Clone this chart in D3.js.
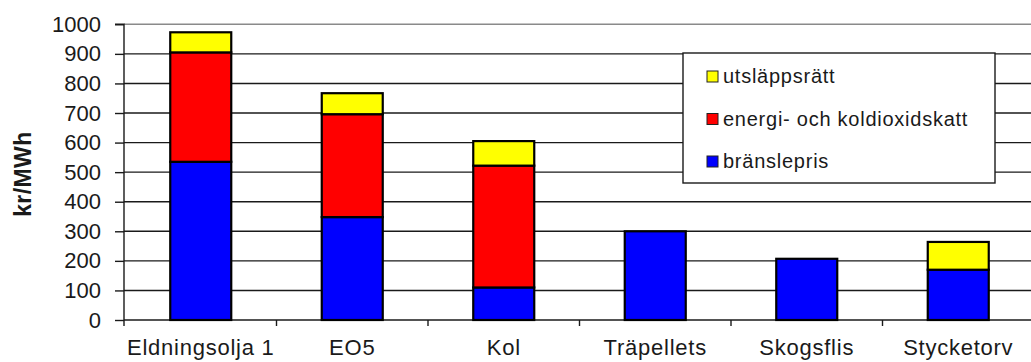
<!DOCTYPE html>
<html>
<head>
<meta charset="utf-8">
<script src="https://cdn.jsdelivr.net/npm/d3@7"></script>
<style>
  html, body { margin: 0; padding: 0; background: #fff; }
  svg { display: block; font-family: Arial, "Liberation Sans", sans-serif; }
</style>
</head>
<body>
<svg id="chart" width="1031" height="362"></svg>
<script>
// Fuel cost per MWh, split into fuel price, energy/CO2 tax and emission allowance
const categories = ["Eldningsolja 1", "EO5", "Kol", "Träpellets", "Skogsflis", "Stycketorv"];
const branslepris = [535, 348, 110, 300, 207, 170];
const skatt       = [370, 348, 412, 0, 0, 0];
const utslapp     = [68, 71, 83, 0, 0, 94];
const seriesNames = ["bränslepris", "energi- och koldioxidskatt", "utsläppsrätt"];
const seriesColors = ["#0000ff", "#ff0000", "#ffff00"];
const yTicks = [0, 100, 200, 300, 400, 500, 600, 700, 800, 900, 1000];
const yLabel = "kr/MWh";

const svg = d3.select("#chart");

const plot = { left: 124, right: 1034, top: 24.3, bottom: 320 };

const x = d3.scaleBand().domain(categories).range([plot.left + 1, plot.right]).paddingInner(0).paddingOuter(0);
const y = d3.scaleLinear().domain([0, 1000]).range([plot.bottom, plot.top]);
const barW = 61;

// Horizontal gridlines
svg.append("g")
  .selectAll("line")
  .data(yTicks.filter(t => t > 0))
  .join("line")
  .attr("x1", plot.left)
  .attr("x2", 1031)
  .attr("y1", d => y(d))
  .attr("y2", d => y(d))
  .attr("stroke", d => d === 1000 ? "#8a8a8a" : "#1a1a1a")
  .attr("stroke-width", 1.4);

// Y axis
const yAxis = d3.axisLeft(y).tickValues(yTicks).tickSize(9).tickPadding(14).tickFormat(d3.format("d"));
const gy = svg.append("g").attr("transform", `translate(${plot.left},0)`).call(yAxis);
gy.select(".domain").attr("stroke", "#1a1a1a").attr("stroke-width", 1.4).attr("d", `M-9,${y(1000)}H0V${plot.bottom + 6}`);
gy.selectAll(".tick line").attr("stroke", "#1a1a1a").attr("stroke-width", 1.4);
gy.selectAll(".tick text").attr("font-size", 22).attr("fill", "#1a1a1a").attr("font-family", "Arial, 'Liberation Sans', sans-serif");

// Y axis title
svg.append("text")
  .attr("transform", `translate(31,${(y(1000) + y(0)) / 2 + 2}) rotate(-90)`)
  .attr("text-anchor", "middle")
  .attr("font-size", 23)
  .attr("font-weight", "bold")
  .attr("letter-spacing", 0.4)
  .attr("fill", "#1a1a1a")
  .text(yLabel);

// X axis baseline with ticks at category boundaries
svg.append("line")
  .attr("x1", plot.left).attr("x2", 1031)
  .attr("y1", plot.bottom).attr("y2", plot.bottom)
  .attr("stroke", "#1a1a1a").attr("stroke-width", 1.4);
svg.append("g")
  .selectAll("line")
  .data(categories.slice(1))
  .join("line")
  .attr("x1", d => x(d)).attr("x2", d => x(d))
  .attr("y1", plot.bottom).attr("y2", plot.bottom + 6)
  .attr("stroke", "#1a1a1a").attr("stroke-width", 1.4);

// Category labels
svg.append("g")
  .selectAll("text")
  .data(categories)
  .join("text")
  .attr("x", d => x(d) + x.bandwidth() / 2)
  .attr("y", 355)
  .attr("text-anchor", "middle")
  .attr("font-size", 22)
  .attr("letter-spacing", 0.75)
  .attr("fill", "#1a1a1a")
  .text(d => d);

// Stacked bars
const rows = categories.map((c, i) => ({ cat: c, b: branslepris[i], s: skatt[i], u: utslapp[i] }));
const stack = d3.stack().keys(["b", "s", "u"]);
const layers = stack(rows);

svg.append("g")
  .selectAll("g")
  .data(layers)
  .join("g")
  .attr("fill", (d, i) => seriesColors[i])
  .selectAll("rect")
  .data(d => d.filter(p => p[1] - p[0] > 0))
  .join("rect")
  .attr("x", d => x(d.data.cat) + (x.bandwidth() - barW) / 2)
  .attr("width", barW)
  .attr("y", d => y(d[1]))
  .attr("height", d => y(d[0]) - y(d[1]))
  .attr("stroke", "#000")
  .attr("stroke-width", 2.2);

// Legend
const legend = svg.append("g").attr("transform", "translate(683,53)");
legend.append("rect")
  .attr("width", 312).attr("height", 130)
  .attr("fill", "#fff").attr("stroke", "#1a1a1a").attr("stroke-width", 1.4);
const legendOrder = [2, 1, 0];
const li = legend.selectAll("g.item")
  .data(legendOrder)
  .join("g")
  .attr("class", "item")
  .attr("transform", (d, i) => `translate(0,${22 + i * 42.5})`);
li.append("rect")
  .attr("x", 24).attr("y", -4).attr("width", 11).attr("height", 11)
  .attr("fill", d => seriesColors[d]).attr("stroke", "#222").attr("stroke-width", 1);
li.append("text")
  .attr("x", 40).attr("y", 8)
  .attr("font-size", 20)
  .attr("letter-spacing", 0.75)
  .attr("fill", "#1a1a1a")
  .text(d => seriesNames[d]);
</script>
</body>
</html>
